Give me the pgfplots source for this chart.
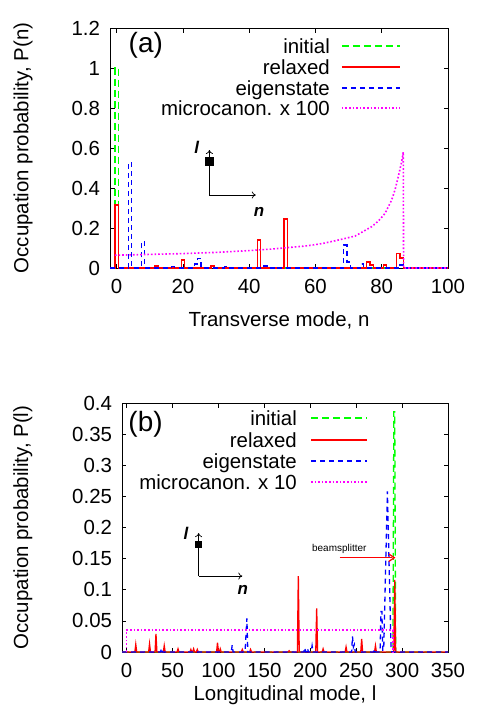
\documentclass[border=0pt]{standalone}
\usepackage{pgfplots}
\pgfplotsset{compat=1.18}
\usepackage{fontspec}
\setmainfont{Liberation Sans}
\usetikzlibrary{arrows.meta}
\definecolor{cgreen}{rgb}{0,1,0}
\definecolor{cred}{rgb}{1,0,0}
\definecolor{cblue}{rgb}{0,0,1}
\definecolor{cmag}{rgb}{1,0,1}
\pgfplotsset{
  gpaxis/.style={
    scale only axis,
    axis line style={line width=0.8bp},
    tick style={black,line width=0.6bp},
    major tick length=4.5bp,
    tick align=inside,
    clip=false,
    /pgf/number format/assume math mode=true,
    tick label style={font=\fontsize{20.5}{24}\selectfont},
    xticklabel style={yshift=-4bp},
    yticklabel style={xshift=-3bp},
    label style={font=\fontsize{20.5}{24}\selectfont},
  },
}
\tikzset{
  sgreen/.style={draw=cgreen, line width=1.3bp, dash pattern=on 7bp off 4bp},
  sred/.style={draw=cred, line width=1.3bp, solid},
  sblue/.style={draw=cblue, line width=1.3bp, dash pattern=on 5bp off 4bp},
  smag/.style={draw=cmag, line width=1.6bp, dash pattern=on 1.6bp off 2bp},
  legtext/.style={anchor=base east, inner sep=0pt, yshift=-7.5bp, font=\fontsize{20.5}{24}\selectfont},
}
\begin{document}
\fontsize{20.5}{24}\selectfont
\begin{tikzpicture}
\useasboundingbox (0,0) rectangle (485bp,-716bp);
% ---------------- panel (a)
\begin{axis}[gpaxis,
  at={(110bp,-268bp)}, anchor=south west,
  width=338bp, height=240bp,
  xmin=-2, xmax=100, ymin=0, ymax=1.2,
  xtick={0,20,40,60,80,100},
  xticklabels={0,20,40,60,80,100},
  ytick={0,0.2,0.4,0.6,0.8,1,1.2},
  yticklabels={0,0.2,0.4,0.6,0.8,1,1.2},
  xlabel={Transverse mode, n},
  ylabel={Occupation probability, P(n)},
  xlabel style={at={(axis description cs:0.5,-0.217)}, anchor=center},
  ylabel style={at={(axis description cs:-0.257,0.5)}, anchor=center},
]
\addplot[sgreen, const plot mark mid] coordinates {
 (-2,0) (-1,0) (0,1.0) (1,0) (100,0)};
\addplot[sred, const plot mark mid] coordinates {
 (-2,0) (-1,0) (0,0.315) (1,0) (11,0) (12,0.01) (13,0) (19,0) (20,0.04) (21,0)
 (28,0) (29,0.01) (30,0) (31,0) (32,0.004) (33,0)
 (42,0) (43,0.14) (44,0) (50,0) (51,0.245) (52,0)
 (64,0) (65,0.004) (66,0) (75,0) (76,0.03) (77,0.015) (78,0)
 (80,0) (81,0.015) (82,0) (84,0) (85,0.073) (86,0.05) (87,0) (100,0)};
\addplot[sblue, const plot mark mid] coordinates {
 (-2,0) (3,0) (4,0.525) (5,0) (7,0) (8,0.13) (9,0)
 (16,0) (17,0.006) (18,0) (23,0) (24,0.02) (25,0.048) (26,0)
 (32,0) (33,0.006) (34,0) (44,0) (45,0.01) (46,0) (47,0) (48,0.006) (49,0)
 (68,0) (69,0.115) (70,0.03) (71,0) (73,0) (74,0.02) (75,0)
 (85,0) (86,0.015) (87,0) (100,0)};
\addplot[smag] coordinates {
 (-0.5,0.064) (5,0.066) (10,0.068) (20,0.072) (30,0.078) (40,0.087)
 (47,0.095) (57,0.11) (62,0.122) (67,0.14) (72,0.16) (77,0.207)
 (79,0.235) (81,0.273) (83,0.34) (84,0.39) (85,0.457) (86,0.53)
 (86.5,0.58) (86.6,0) (100,0)};
% legend (a)
\node[legtext] at (axis description cs:0.651,0.925) {initial};
\node[legtext] at (axis description cs:0.651,0.8375) {relaxed};
\node[legtext] at (axis description cs:0.651,0.75) {eigenstate};
\node[legtext] at (axis description cs:0.651,0.667) {microcanon. x 100};
\draw[sgreen] (axis description cs:0.686,0.925) -- (axis description cs:0.858,0.925);
\draw[sred] (axis description cs:0.686,0.8375) -- (axis description cs:0.858,0.8375);
\draw[sblue] (axis description cs:0.686,0.75) -- (axis description cs:0.858,0.75);
\draw[smag] (axis description cs:0.686,0.667) -- (axis description cs:0.858,0.667);
\node[font=\fontsize{28}{32}\selectfont] at (axis cs:8.8,1.115) {(a)};
\draw[line width=0.7bp, -{To[length=4bp,width=7bp]}] (axis cs:28,0.365) -- (axis cs:28,0.59);
\fill (axis cs:28,0.535) ++(-4.5bp,-4.5bp) rectangle ++(9bp,9bp);
\draw[line width=0.7bp, -{To[length=4bp,width=7bp]}] (axis cs:28,0.365) -- (axis cs:42,0.365);
\node[font=\fontsize{17}{20}\selectfont\bfseries\itshape] at (axis cs:24.2,0.605) {l};
\node[font=\fontsize{17}{20}\selectfont\bfseries\itshape] at (axis cs:43,0.28) {n};
\end{axis}
% ---------------- panel (b)
\begin{axis}[gpaxis,
  at={(122bp,-652bp)}, anchor=south west,
  width=326bp, height=249bp,
  xmin=-5, xmax=350, ymin=0, ymax=0.4,
  xtick={0,50,100,150,200,250,300,350},
  xticklabels={0,50,100,150,200,250,300,350},
  ytick={0,0.05,0.1,0.15,0.2,0.25,0.3,0.35,0.4},
  yticklabels={0,0.05,0.1,0.15,0.2,0.25,0.3,0.35,0.4},
  xlabel={Longitudinal mode, l},
  ylabel={Occupation probability, P(l)},
  xlabel style={at={(axis description cs:0.5,-0.173)}, anchor=center},
  ylabel style={at={(axis description cs:-0.304,0.5)}, anchor=center},
]
\addplot[sgreen] coordinates {
 (-5,0) (290,0) (291,0.386) (292,0.386) (293,0) (350,0)};
\addplot[sred] coordinates {
 (-5,0) (9,0) (10,0.012) (11,0) (24,0) (25,0.013) (26,0) (31,0) (32,0.029) (33,0)
 (40,0) (41,0.01) (42,0) (55,0) (56,0.005) (57,0) (69,0) (70,0.004) (71,0)
 (72,0) (73,0.005) (74,0) (76,0) (77,0.004) (78,0) (98,0) (99,0.015) (100,0)
 (101,0) (102,0.005) (103,0) (125,0) (126,0.004) (127,0) (134,0) (135,0.004) (136,0)
 (176,0) (177,0.002) (178,0) (186,0) (187,0.122) (188,0) (206,0) (207,0.07) (208,0)
 (213,0) (214,0.005) (215,0) (238,0) (239,0.008) (240,0) (255,0) (256,0.021) (257,0)
 (270,0) (271,0.01) (272,0) (291,0) (292,0.116) (293,0) (350,0)};
\addplot[sblue] coordinates {
 (-5,0) (37,0) (38,0.006) (39,0) (114,0) (115,0.011) (116,0)
 (129,0) (131,0.054) (132,0) (193,0) (194,0.007) (195,0) (196,0) (197,0.006) (198,0)
 (201,0) (202,0.01) (203,0) (245,0) (246,0.025) (247,0.008) (248,0.012) (249,0)
 (269,0) (270,0.005) (271,0) (276,0) (277,0.065) (278,0.065) (279,0.003) (280,0.003)
 (284,0.258) (288,0.005) (289,0) (350,0)};
\addplot[smag] coordinates {
 (0,0) (0,0.035) (290,0.035) (290,0)};
% legend (b)
\node[legtext] at (axis description cs:0.537,0.94) {initial};
\node[legtext] at (axis description cs:0.537,0.851) {relaxed};
\node[legtext] at (axis description cs:0.537,0.767) {eigenstate};
\node[legtext] at (axis description cs:0.537,0.683) {microcanon. x 10};
\draw[sgreen] (axis description cs:0.580,0.94) -- (axis description cs:0.752,0.94);
\draw[sred] (axis description cs:0.580,0.851) -- (axis description cs:0.752,0.851);
\draw[sblue] (axis description cs:0.580,0.767) -- (axis description cs:0.752,0.767);
\draw[smag] (axis description cs:0.580,0.683) -- (axis description cs:0.752,0.683);
\node[font=\fontsize{28}{32}\selectfont] at (axis cs:20.6,0.366) {(b)};
\draw[draw=cred, line width=1.5bp] (axis cs:232,0.1515) -- (axis cs:289,0.1515);
\draw[draw=cred, line width=1.2bp] (axis cs:285.5,0.1575) -- (axis cs:291.6,0.1515) -- (axis cs:285.5,0.1455);
\node[font=\fontsize{10}{12}\selectfont] at (axis cs:231.6,0.165) {beamsplitter};
\draw[line width=0.7bp, -{To[length=4bp,width=7bp]}] (axis cs:78.4,0.122) -- (axis cs:78.4,0.191);
\fill (axis cs:78.4,0.1727) ++(-3.7bp,-3.7bp) rectangle ++(7.4bp,7.4bp);
\draw[line width=0.7bp, -{To[length=4bp,width=7bp]}] (axis cs:78.4,0.122) -- (axis cs:126,0.122);
\node[font=\fontsize{17}{20}\selectfont\bfseries\itshape] at (axis cs:64.8,0.191) {l};
\node[font=\fontsize{17}{20}\selectfont\bfseries\itshape] at (axis cs:126.6,0.0996) {n};
\end{axis}
\end{tikzpicture}
\end{document}
